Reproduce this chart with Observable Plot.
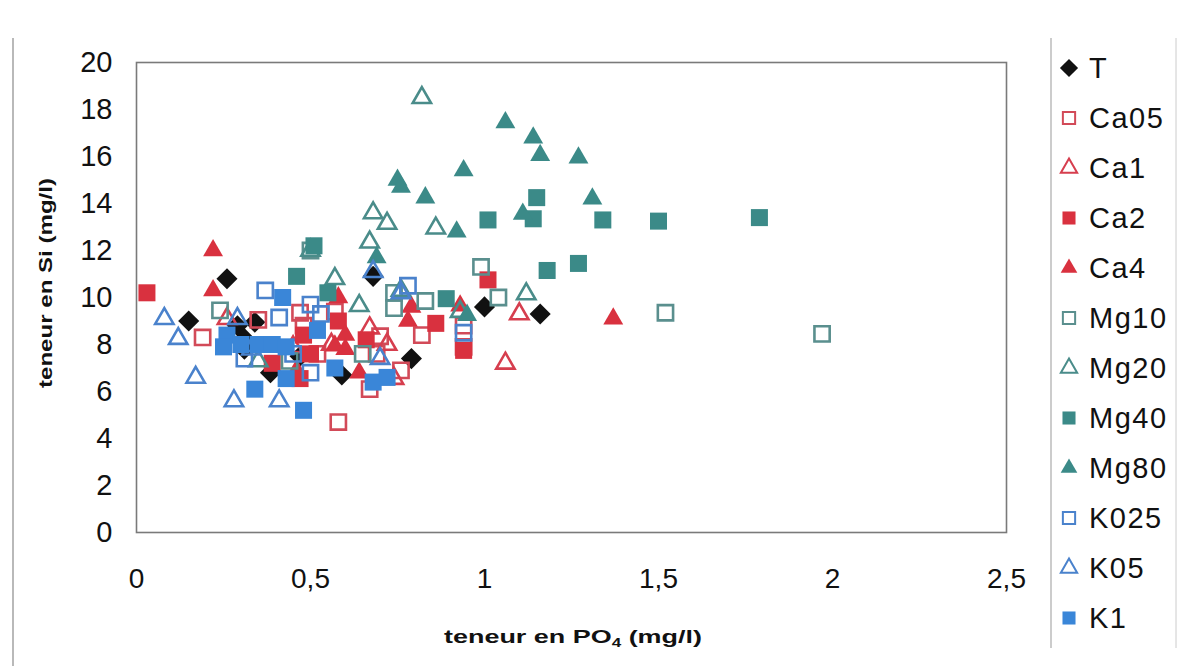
<!DOCTYPE html>
<html><head><meta charset="utf-8">
<script src="https://cdn.jsdelivr.net/npm/d3@7"></script>
<script src="https://cdn.jsdelivr.net/npm/@observablehq/plot@0.6"></script>
<style>
body{margin:0;background:#fff;}
#wrap{position:relative;width:1185px;height:666px;overflow:hidden;background:#fff;}
#chart{position:absolute;left:0;top:0;}
#over{position:absolute;left:0;top:0;}
</style></head><body>
<div id="wrap"><div id="chart"></div><svg id="over" width="1185" height="666"></svg></div>
<script>
// ---- data (teneur en PO4, teneur en Si) ----
const seriesNames = ["T","Ca05","Ca1","Ca2","Ca4","Mg10","Mg20","Mg40","Mg80","K025","K05","K1"];
const T    = [[0.15,9.0],[0.26,10.8],[0.29,8.8],[0.31,8.25],[0.31,7.8],[0.34,8.95],[0.385,6.8],[0.47,7.5],[0.59,6.7],[0.68,10.9],[0.79,7.4],[1.0,9.6],[1.16,9.3]];
const Ca05 = [[0.19,8.3],[0.35,9.05],[0.47,9.35],[0.48,8.8],[0.57,9.4],[0.58,4.7],[0.67,6.1],[0.70,8.35],[0.69,7.6],[0.76,6.9],[0.82,8.4],[0.94,8.8],[0.94,7.9],[0.52,7.6]];
const Ca1  = [[0.26,9.1],[0.45,7.9],[0.56,8.0],[0.67,8.7],[0.74,6.55],[1.06,7.2],[1.1,9.3],[0.72,8.0]];
const Ca2  = [[0.03,10.2],[0.39,7.2],[0.47,6.55],[0.48,8.4],[0.58,9.0],[0.66,8.2],[0.86,8.9],[0.94,7.75],[1.01,10.75],[0.5,7.6]];
const Ca4  = [[0.22,12.0],[0.22,10.3],[0.58,10.0],[0.6,8.4],[0.6,7.8],[0.57,7.95],[0.64,6.8],[0.78,9.0],[0.79,9.6],[0.93,9.65],[1.37,9.1],[0.46,6.9]];
const Mg10 = [[0.24,9.45],[0.5,12.0],[0.74,10.2],[0.74,9.55],[0.83,9.85],[0.99,11.3],[1.04,10.0],[1.52,9.35],[1.97,8.45],[0.44,7.3],[0.65,7.6]];
const Mg20 = [[0.82,18.5],[0.67,12.35],[0.68,13.6],[0.72,13.15],[0.86,12.95],[0.57,10.8],[0.64,9.65],[1.12,10.15],[0.35,7.3],[0.5,12.0],[0.76,10.3],[0.93,9.4]];
const Mg40 = [[0.46,10.9],[0.51,12.2],[0.55,10.2],[0.89,9.95],[1.01,13.3],[1.14,13.35],[1.15,14.25],[1.18,11.15],[1.27,11.45],[1.34,13.3],[1.5,13.25],[1.79,13.4]];
const Mg80 = [[0.69,11.7],[0.75,15.0],[0.76,14.7],[0.83,14.25],[0.92,12.8],[0.94,15.4],[1.06,17.45],[1.11,13.55],[1.14,16.8],[1.16,16.05],[1.27,15.95],[1.31,14.2],[0.95,9.25]];
const K025 = [[0.37,10.3],[0.41,9.15],[0.31,7.4],[0.5,9.7],[0.53,9.3],[0.78,10.5],[0.94,8.5],[0.45,7.6],[0.5,6.8]];
const K05  = [[0.08,9.1],[0.12,8.25],[0.17,6.6],[0.28,5.6],[0.41,5.6],[0.29,9.1],[0.68,11.1],[0.70,7.4],[0.76,10.2],[0.33,7.8]];
const K1   = [[0.26,8.4],[0.25,7.9],[0.34,6.1],[0.48,5.2],[0.42,10.0],[0.35,8.0],[0.39,8.0],[0.43,7.9],[0.43,6.55],[0.52,8.6],[0.57,7.0],[0.68,6.4],[0.72,6.6],[0.3,8.0]];
const xTicks = [0,0.5,1,1.5,2,2.5];
const yTicks = [0,2,4,6,8,10,12,14,16,18,20];
const xTitle = ["teneur en PO","4"," (mg/l)"];
const yTitle = "teneur en Si (mg/l)";

// ---- styles ----
const RED="#d9313f", TEAL="#3b8a88", BLUE="#3a86d8";
const SQ=d3.symbolSquare, TRI=d3.symbolTriangle, DIA=d3.symbolDiamond2;
const styles = {
  T:   {data:T,   sym:DIA, r:9.5, fill:"#111", stroke:"none"},
  Ca05:{data:Ca05,sym:SQ,  r:8.6, fill:"none", stroke:"#d24a58"},
  Ca1: {data:Ca1, sym:TRI, r:6.8, fill:"none", stroke:"#d63e4e"},
  Ca2: {data:Ca2, sym:SQ,  r:9.6, fill:RED,    stroke:"none"},
  Ca4: {data:Ca4, sym:TRI, r:7.4, fill:RED,    stroke:"none"},
  Mg10:{data:Mg10,sym:SQ,  r:8.6, fill:"none", stroke:"#5a8f8e"},
  Mg20:{data:Mg20,sym:TRI, r:6.8, fill:"none", stroke:"#4a8c8a"},
  Mg40:{data:Mg40,sym:SQ,  r:9.6, fill:TEAL,   stroke:"none"},
  Mg80:{data:Mg80,sym:TRI, r:7.4, fill:TEAL,   stroke:"none"},
  K025:{data:K025,sym:SQ,  r:8.6, fill:"none", stroke:"#4a82cc"},
  K05: {data:K05, sym:TRI, r:6.8, fill:"none", stroke:"#4a82cc"},
  K1:  {data:K1,  sym:SQ,  r:9.6, fill:BLUE,   stroke:"none"}
};

const FONT = "Arial, 'Liberation Sans', sans-serif";
const marks = [
  Plot.frame({stroke:"#7a7a7a", strokeWidth:1.6}),
  Plot.axisX(xTicks, {tickFormat:d=>String(d).replace(".",","), tickSize:0, tickPadding:36, fontSize:28, fill:"#111", label:null}),
  Plot.axisY(yTicks, {tickSize:0, tickPadding:24, fontSize:29, fill:"#111", label:null})
];
for (const name of seriesNames) {
  const s = styles[name];
  marks.push(Plot.dot(s.data, {x:d=>d[0], y:d=>d[1], symbol:s.sym, r:s.r,
    fill:s.fill, stroke:s.stroke, strokeWidth:s.stroke==="none"?0:2.6}));
}

const chart = Plot.plot({
  width:1040, height:666,
  marginLeft:136, marginRight:34, marginTop:62, marginBottom:134,
  x:{domain:[0,2.5]},
  y:{domain:[0,20]},
  style:{fontFamily:FONT, color:"#111", background:"transparent", overflow:"visible"},
  marks
});
document.getElementById("chart").appendChild(chart);

// ---- overlay: titles, legend, outer border ----
const over = d3.select("#over");
over.append("line").attr("x1",13).attr("x2",13).attr("y1",38).attr("y2",666).attr("stroke","#8a8a8a").attr("stroke-width",1.2);

const xt = over.append("text").attr("x",573).attr("y",643).attr("text-anchor","middle")
  .attr("font-family",FONT).attr("font-weight","bold").attr("font-size",19)
  .attr("fill","#111").attr("textLength",258).attr("lengthAdjust","spacingAndGlyphs");
xt.append("tspan").text(xTitle[0]);
xt.append("tspan").attr("font-size",12).attr("dy",4).text(xTitle[1]);
xt.append("tspan").attr("dy",-4).text(xTitle[2]);

over.append("text").attr("transform","translate(52,283) rotate(-90)").attr("text-anchor","middle")
  .attr("font-family",FONT).attr("font-weight","bold").attr("font-size",19)
  .attr("fill","#111").attr("textLength",210).attr("lengthAdjust","spacingAndGlyphs").text(yTitle);

// legend box
over.append("line").attr("x1",1051).attr("x2",1051).attr("y1",38).attr("y2",648).attr("stroke","#999").attr("stroke-width",1);
over.append("line").attr("x1",1176).attr("x2",1176).attr("y1",38).attr("y2",648).attr("stroke","#ccc").attr("stroke-width",1);
const legSize = {T:210, Ca05:150, Ca1:115, Ca2:170, Ca4:120, Mg10:150, Mg20:115, Mg40:170, Mg80:120, K025:150, K05:115, K1:170};
seriesNames.forEach((name,i)=>{
  const s = styles[name];
  const cy = 68 + i*50;
  over.append("path").attr("d", d3.symbol().type(s.sym).size(legSize[name])())
    .attr("transform",`translate(1069,${cy})`)
    .attr("fill",s.fill).attr("stroke",s.stroke).attr("stroke-width",s.stroke==="none"?0:2);
  over.append("text").attr("x",1089).attr("y",cy).attr("dy","0.36em")
    .attr("font-family",FONT).attr("font-size",29).attr("letter-spacing","1.5px")
    .attr("fill","#111").text(name);
});
</script>
</body></html>
